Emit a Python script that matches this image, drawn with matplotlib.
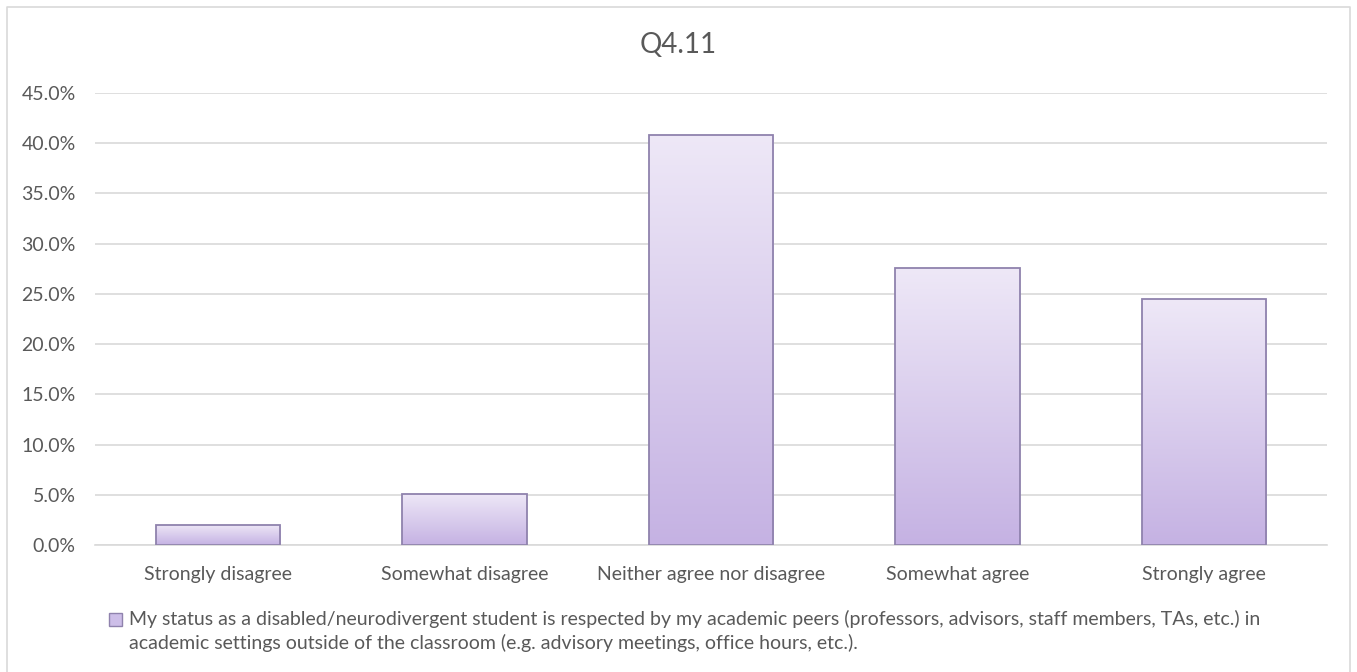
import numpy as np
import matplotlib
matplotlib.use("Agg")
import matplotlib.pyplot as plt
from matplotlib.colors import LinearSegmentedColormap
from matplotlib.patches import Rectangle
from matplotlib.lines import Line2D

# ---- DATA ----
categories = ["Strongly disagree", "Somewhat disagree",
              "Neither agree nor disagree", "Somewhat agree", "Strongly agree"]
shares = [2.04, 5.10, 40.82, 27.55, 24.49]   # percent of respondents
y_ticks = [0, 5, 10, 15, 20, 25, 30, 35, 40, 45]
title = "Q4.11"
series_label = ("My status as a disabled/neurodivergent student is respected by my academic peers "
                "(professors, advisors, staff members, TAs, etc.) in")
series_label_2 = "academic settings outside of the classroom (e.g. advisory meetings, office hours, etc.)."

# ---- STYLE ----
plt.rcParams["font.family"] = ["Lato", "DejaVu Sans"]
TEXT = "#595959"
GRID = "#D9D9D9"
EDGE = "#8F82AD"
lavender = LinearSegmentedColormap.from_list("lavender", ["#EEE8F7", "#C5B2E3"])

W, H = 1357, 672
fig = plt.figure(figsize=(W / 100, H / 100), dpi=100)
ax = fig.add_axes([95 / W, (H - 545) / H, 1232 / W, 452 / H])

x = np.arange(len(categories))
bars = ax.bar(x, shares, width=0.505, facecolor="none",
              edgecolor=EDGE, linewidth=1.3, zorder=3)

# vertical gradient inside each bar: darker at the base, light at the top
grad = np.linspace(1, 0, 256).reshape(-1, 1)
for bar in bars:
    x0, w, h = bar.get_x(), bar.get_width(), bar.get_height()
    im = ax.imshow(grad, extent=[x0, x0 + w, 0, h], aspect="auto",
                   cmap=lavender, origin="lower", zorder=2)
    im.set_clip_path(bar)

ax.set_xlim(-0.5, len(categories) - 0.5)
ax.set_ylim(0, 45)
ax.set_yticks(y_ticks)
ax.set_yticklabels([f"{v:.1f}%" for v in y_ticks])
ax.set_xticks(x)
ax.set_xticklabels(categories)
ax.yaxis.grid(True, color=GRID, linewidth=1.2)
ax.set_axisbelow(True)
for side in ["top", "right", "left"]:
    ax.spines[side].set_visible(False)
ax.spines["bottom"].set_color(GRID)
ax.spines["bottom"].set_linewidth(1.2)
ax.tick_params(axis="both", length=0, labelsize=14, labelcolor=TEXT)
ax.tick_params(axis="y", pad=14)
ax.tick_params(axis="x", pad=15)

fig.text(678 / W, 1 - 45 / H, title, ha="center", va="center",
         fontsize=20, color=TEXT)

# legend drawn by hand so the swatch sits on the first line
fig.patches.append(Rectangle((109 / W, 1 - 626 / H), 13 / W, 13 / H,
                             transform=fig.transFigure, facecolor="#CDBEE8",
                             edgecolor=EDGE, linewidth=1))
fig.text(129 / W, 1 - 619 / H, series_label, ha="left", va="center",
         fontsize=14, color=TEXT)
fig.text(129 / W, 1 - 643 / H, series_label_2, ha="left", va="center",
         fontsize=14, color=TEXT)

# chart area border (open at the bottom)
fig.lines.append(Line2D([7 / W, 7 / W, 1350 / W, 1350 / W],
                        [0, 1 - 7 / H, 1 - 7 / H, 0],
                        transform=fig.transFigure, color=GRID, linewidth=1.2))

fig.savefig("out.png", dpi=100)
